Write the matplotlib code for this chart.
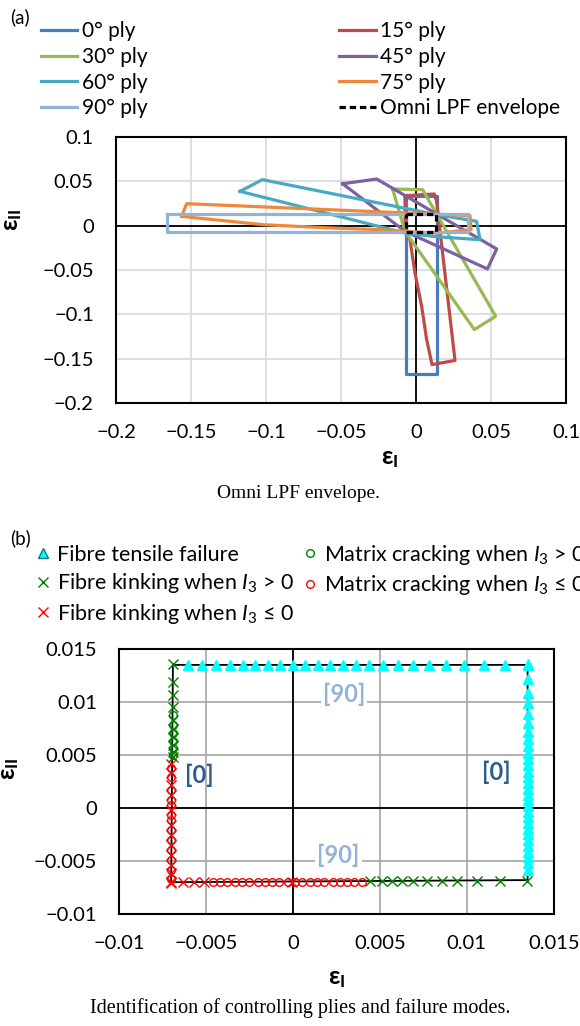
import numpy as np
import matplotlib.pyplot as plt
from matplotlib.lines import Line2D

plt.rcParams['font.family'] = ['Lato', 'DejaVu Sans']
plt.rcParams['mathtext.fontset'] = 'custom'
plt.rcParams['mathtext.rm'] = 'Lato'
plt.rcParams['mathtext.it'] = 'Lato:italic'
plt.rcParams['mathtext.bf'] = 'Lato:bold'

# ---- (a) failure envelopes of each ply (eps_I, eps_II) ----
ply_labels = ['0° ply', '15° ply', '30° ply', '45° ply', '60° ply', '75° ply', '90° ply']

ply0_x = [-0.0069, 0.0142, 0.0142, -0.0069, -0.0069]
ply0_y = [0.0338, 0.0338, -0.1669, -0.1669, 0.0338]

ply15_x = [-0.0073, 0.0122, 0.0137, 0.0260, 0.0107, 0.0071, 0.0038, -0.0007, -0.0040, -0.0073, -0.0073]
ply15_y = [0.0338, 0.0357, 0.0280, -0.1520, -0.1567, -0.1285, -0.0913, -0.0530, -0.0158, -0.0068, 0.0338]

ply30_x = [-0.0156, 0.0044, 0.0531, 0.0389, -0.0073, -0.0156]
ply30_y = [0.0414, 0.0406, -0.1022, -0.1172, -0.0064, 0.0414]

ply45_x = [-0.0489, -0.0262, 0.0538, 0.0476, -0.0073, -0.0489]
ply45_y = [0.0473, 0.0526, -0.0263, -0.0488, -0.0064, 0.0473]

ply60_x = [-0.1173, -0.1024, 0.0138, 0.0404, 0.0427, 0.0138, -0.0073, -0.1173]
ply60_y = [0.0387, 0.0519, 0.0124, 0.0049, -0.0158, -0.0125, -0.0083, 0.0387]

ply75_x = [-0.1562, -0.1529, 0.0360, 0.0367, 0.0140, -0.0073, -0.0240, -0.0573, -0.1018, -0.1351, -0.1562]
ply75_y = [0.0105, 0.0248, 0.0113, -0.0045, -0.0085, -0.0064, -0.0045, -0.0026, 0.0011, 0.0068, 0.0105]

ply90_x = [-0.1662, 0.0349, 0.0349, -0.1662, -0.1662]
ply90_y = [0.0132, 0.0132, -0.0076, -0.0076, 0.0132]

omni_x = [-0.0070, 0.0135, 0.0135, -0.0070, -0.0070]
omni_y = [0.0135, 0.0135, -0.0070, -0.0070, 0.0135]

top_ticks = [-0.2, -0.15, -0.1, -0.05, 0, 0.05, 0.1]
top_tick_labels = ['\u22120.2', '\u22120.15', '\u22120.1', '\u22120.05', '0', '0.05', '0.1']

# ---- (b) controlling plies / failure modes ----
env_x = [-0.0069, 0.0135, 0.0135, -0.0070, -0.0069]
env_y = [0.0135, 0.0135, -0.0068, -0.0070, 0.0135]

tensile_top_x = [-0.00605, -0.00521, -0.0044, -0.00364, -0.00289, -0.00216, -0.00145, -0.00072,
                 0.0, 0.0007, 0.00142, 0.00213, 0.00286, 0.00361, 0.0044, 0.0052, 0.00603,
                 0.00689, 0.00781, 0.00879, 0.00984, 0.01099, 0.0122, 0.01354]
tensile_right_y = [0.01358, 0.01214, 0.01088, 0.00987, 0.00887, 0.00799, 0.0072, 0.00651,
                   0.00585, 0.00522, 0.00462, 0.00403, 0.00343, 0.00289, 0.00233, 0.00179,
                   0.00126, 0.00072, 0.00019, -0.00035, -0.00088, -0.00142, -0.00195,
                   -0.00248, -0.00302, -0.00355, -0.00412, -0.00465, -0.00522, -0.00585]

kink_pos_left_y = [0.01358, 0.01192, 0.01066, 0.00956, 0.0083, 0.00742, 0.00673, 0.00594, 0.00531, 0.00478]
kink_pos_bottom_x = [0.00443, 0.00511, 0.00569, 0.00626, 0.00693, 0.0077, 0.00856, 0.00946,
                     0.01057, 0.0119, 0.01344]
crack_pos_left_y = [0.00877, 0.00783, 0.00704, 0.00632, 0.00563, 0.005]

kink_neg_left_y = [0.00415, 0.00333, 0.00214, 0.00123, -0.00019, -0.0016, -0.00255, -0.00349,
                   -0.00443, -0.00538, -0.00616, -0.00711]
kink_neg_bottom_x = [-0.00701, -0.0063, -0.00567, -0.00509, -0.00007]
crack_neg_left_y = [0.00374, 0.00296, 0.0017, 0.00075, 0.00028, -0.00066, -0.00113, -0.00208,
                    -0.00302, -0.00396, -0.00491, -0.00585, -0.00673]
crack_neg_bottom_x = [-0.0046, -0.0042, -0.0038, -0.0033, -0.0029, -0.0025, -0.0020, -0.0016,
                      -0.0012, -0.0008, -0.0003, 0.0001, 0.0005, 0.0010, 0.0014, 0.0018,
                      0.0023, 0.0027, 0.0031, 0.0035, 0.0040]

bot_ticks = [-0.01, -0.005, 0, 0.005, 0.01, 0.015]
bot_tick_labels = ['\u22120.01', '\u22120.005', '0', '0.005', '0.01', '0.015']

ply_colors = ['#4A7EBB', '#BE4B48', '#98B954', '#7D60A0', '#46AAC5', '#F0883C', '#94B2D6']

fig = plt.figure(figsize=(5.8, 10.26), dpi=100)
W, H = 580.0, 1026.0


def style_axes(ax, ticks, labels, grid_color):
    ax.set_xlim(ticks[0], ticks[-1])
    ax.set_ylim(ticks[0], ticks[-1])
    ax.set_xticks(ticks)
    ax.set_xticklabels(labels)
    ax.set_yticks(ticks)
    ax.set_yticklabels(labels)
    ax.tick_params(length=0, labelsize=14.5)
    ax.tick_params(axis='x', pad=15)
    ax.tick_params(axis='y', pad=16)
    ax.grid(True, color=grid_color, lw=1.2)
    ax.set_axisbelow(True)
    ax.axhline(0, color='black', lw=1.3, zorder=1)
    ax.axvline(0, color='black', lw=1.3, zorder=1)
    for s in ax.spines.values():
        s.set_linewidth(1.5)
        s.set_color('black')


# ---------- panel (a) ----------
ax1 = fig.add_axes([116 / W, 1 - 403 / H, 450 / W, 266 / H])
style_axes(ax1, top_ticks, top_tick_labels, '#D9D9D9')
handles = []
for xs, ys, lab, col in zip([ply0_x, ply15_x, ply30_x, ply45_x, ply60_x, ply75_x, ply90_x],
                            [ply0_y, ply15_y, ply30_y, ply45_y, ply60_y, ply75_y, ply90_y],
                            ply_labels, ply_colors):
    h, = ax1.plot(xs, ys, color=col, lw=2.3, solid_joinstyle='round', label=lab)
    handles.append(h)
h_omni, = ax1.plot(omni_x, omni_y, color='black', lw=2.3, ls=(0, (2.0, 1.2)), label='Omni LPF envelope')

ax1.set_xlabel('ε$_{\\mathbf{I}}$', fontsize=18, fontweight='bold')
ax1.xaxis.set_label_coords((390 - 116) / 450, -0.165)
ax1.set_ylabel('ε$_{\\mathbf{II}}$', fontsize=18, fontweight='bold')
ax1.yaxis.set_label_coords(-0.205, 0.69)

leg_order = [handles[0], handles[2], handles[4], handles[6], handles[1], handles[3], handles[5], h_omni]
fig.legend(leg_order, [h.get_label() for h in leg_order], ncol=2, loc='upper left',
           bbox_to_anchor=(41 / W, 1 - 21 / H), frameon=False, fontsize=15,
           handlelength=1.75, handletextpad=0.22, columnspacing=9.2, labelspacing=0.28,
           borderaxespad=0, borderpad=0)
fig.text(10 / W, 1 - 17 / H, '(a)', fontsize=13.5, va='center', ha='left')
fig.text(298 / W, 1 - 493 / H, 'Omni LPF envelope.', family='Liberation Serif',
         fontsize=14, ha='center', va='center')

# ---------- panel (b) ----------
ax2 = fig.add_axes([119 / W, 1 - 914 / H, 434.7 / W, 265 / H])
style_axes(ax2, bot_ticks, bot_tick_labels, '#A6A6A6')
ax2.plot(env_x, env_y, color='black', lw=1.3, zorder=2)

ms_x = dict(marker='x', ls='none', ms=6.5, mew=1.0)
ms_o = dict(marker='o', ls='none', ms=5.5, mew=1.0, mfc='none')
ax2.plot(tensile_top_x, [0.0135] * len(tensile_top_x), marker='^', ls='none', ms=6.5,
         color='#00FFFF', zorder=3)
ax2.plot([0.0135] * len(tensile_right_y), tensile_right_y, marker='^', ls='none', ms=6.5,
         color='#00FFFF', zorder=3)
ax2.plot([-0.0069] * len(kink_pos_left_y), kink_pos_left_y, color='#008000', zorder=3, **ms_x)
ax2.plot([-0.0069] * len(crack_pos_left_y), crack_pos_left_y, color='#008000', zorder=3, **ms_o)
ax2.plot(kink_pos_bottom_x, [-0.0069] * len(kink_pos_bottom_x), color='#008000', zorder=3, **ms_x)
ax2.plot([-0.0070] * len(kink_neg_left_y), kink_neg_left_y, color='#FF0000', zorder=3, **ms_x)
ax2.plot([-0.0070] * len(crack_neg_left_y), crack_neg_left_y, color='#FF0000', zorder=3, **ms_o)
ax2.plot(kink_neg_bottom_x, [-0.0070] * len(kink_neg_bottom_x), color='#FF0000', zorder=3, **ms_x)
ax2.plot(crack_neg_bottom_x, [-0.0070] * len(crack_neg_bottom_x), color='#FF0000', zorder=3, **ms_o)

ann = dict(fontsize=17, fontweight='bold', ha='center', va='center', zorder=4)
ax2.text(-0.0054, 0.0031, '[0]', color='#2F5A8E', **ann)
ax2.text(0.01172, 0.00333, '[0]', color='#2F5A8E', **ann)
ax2.text(0.00294, 0.01072, '[90]', color='#95B3D7',
         bbox=dict(facecolor='white', edgecolor='none', pad=1.5), **ann)
ax2.text(0.00261, -0.00443, '[90]', color='#95B3D7',
         bbox=dict(facecolor='white', edgecolor='none', pad=1.5), **ann)

ax2.set_xlabel('ε$_{\\mathbf{I}}$', fontsize=18, fontweight='bold')
ax2.xaxis.set_label_coords(0.5, -0.2)
ax2.set_ylabel('ε$_{\\mathbf{II}}$', fontsize=18, fontweight='bold')
ax2.yaxis.set_label_coords(-0.225, 0.55)

leg_handles = [
    Line2D([], [], marker='^', ls='none', ms=6.5, color='#00FFFF', mec='#007F7F'),
    Line2D([], [], color='#008000', **ms_x),
    Line2D([], [], color='#FF0000', **ms_x),
    Line2D([], [], color='#008000', **ms_o),
    Line2D([], [], color='#FF0000', **ms_o),
]
leg_labels = ['Fibre tensile failure', 'Fibre kinking when $I_3$ > 0',
              'Fibre kinking when $I_3$ ≤ 0', 'Matrix cracking when $I_3$ > 0',
              'Matrix cracking when $I_3$ ≤ 0']
fig.legend(leg_handles, leg_labels, ncol=2, loc='upper left',
           bbox_to_anchor=(35 / W, 1 - 543 / H), frameon=False, fontsize=15.5,
           handlelength=0.7, handletextpad=0.3, columnspacing=0.4, labelspacing=0.3,
           borderaxespad=0, borderpad=0)
fig.text(10 / W, 1 - 538 / H, '(b)', fontsize=13.5, va='center', ha='left')
fig.text(300 / W, 1 - 1008 / H, 'Identification of controlling plies and failure modes.',
         family='Liberation Serif', fontsize=14.5, ha='center', va='center')

fig.savefig('out.png', dpi=100)
